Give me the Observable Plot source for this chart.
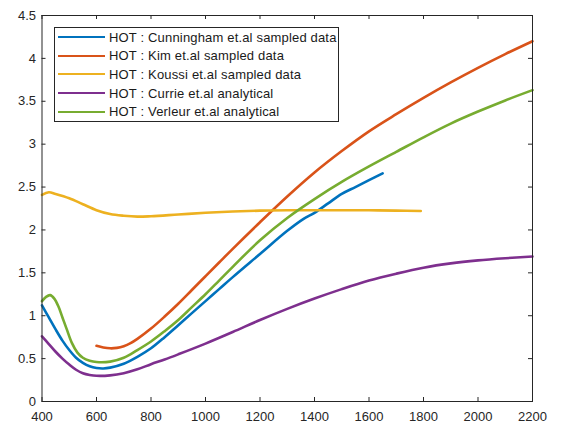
<!DOCTYPE html>
<html>
<head>
<meta charset="utf-8">
<script src="https://cdn.jsdelivr.net/npm/d3@7"></script>
<script src="https://cdn.jsdelivr.net/npm/@observablehq/plot@0.6"></script>
<style>
  html, body { margin: 0; padding: 0; background: #fff; }
  #wrap { position: relative; width: 565px; height: 425px; font-family: "Liberation Sans", Arial, Helvetica, sans-serif; }
  #legend { position: absolute; left: 54px; top: 27px; width: 285px; height: 95px; border: 1px solid #262626; background: #fff; box-sizing: border-box; }
  #legend .row { position: absolute; left: 0; height: 16px; display: flex; align-items: center; font-size: 13px; letter-spacing: 0.17px; color: #1a1a1a; white-space: nowrap; }
  #legend .sw { width: 47px; height: 0; border-top: 2.6px solid; margin: 0 4px 0 3px; }
</style>
</head>
<body>
<div id="wrap"><div id="legend"></div></div>
<script>
// Hot-spot overheat (HOT) curves versus x
const cunninghamX = [400, 425, 450, 475, 500, 525, 550, 575, 600, 625, 650, 700, 750, 800, 850, 900, 950, 1000, 1050, 1100, 1200, 1300, 1360, 1400, 1450, 1500, 1550, 1600, 1650];
const cunninghamY = [1.12, 0.98, 0.84, 0.71, 0.60, 0.51, 0.45, 0.41, 0.39, 0.385, 0.395, 0.44, 0.52, 0.62, 0.75, 0.89, 1.03, 1.17, 1.31, 1.45, 1.72, 1.99, 2.13, 2.20, 2.31, 2.42, 2.50, 2.58, 2.66];

const kimX = [600, 625, 650, 675, 700, 725, 750, 800, 850, 900, 950, 1000, 1050, 1100, 1200, 1300, 1400, 1500, 1600, 1700, 1800, 1900, 2000, 2100, 2200];
const kimY = [0.65, 0.63, 0.62, 0.625, 0.645, 0.68, 0.73, 0.85, 0.99, 1.14, 1.30, 1.46, 1.62, 1.78, 2.09, 2.39, 2.67, 2.92, 3.15, 3.35, 3.54, 3.72, 3.89, 4.05, 4.20];

const koussiX = [400, 425, 450, 500, 550, 600, 650, 700, 750, 800, 900, 1000, 1100, 1200, 1300, 1400, 1500, 1600, 1700, 1790];
const koussiY = [2.41, 2.44, 2.42, 2.37, 2.30, 2.23, 2.185, 2.165, 2.155, 2.16, 2.18, 2.20, 2.215, 2.225, 2.23, 2.23, 2.23, 2.23, 2.225, 2.22];

const currieX = [400, 425, 450, 475, 500, 525, 550, 575, 600, 650, 700, 750, 800, 850, 900, 1000, 1100, 1200, 1300, 1400, 1500, 1600, 1700, 1800, 1900, 2000, 2100, 2200];
const currieY = [0.76, 0.67, 0.58, 0.50, 0.43, 0.37, 0.33, 0.31, 0.30, 0.305, 0.33, 0.375, 0.435, 0.49, 0.55, 0.675, 0.81, 0.95, 1.08, 1.20, 1.31, 1.41, 1.49, 1.56, 1.61, 1.645, 1.67, 1.69];

const verleurX = [400, 415, 430, 445, 460, 475, 490, 510, 530, 550, 575, 600, 650, 700, 750, 800, 850, 900, 950, 1000, 1050, 1100, 1200, 1300, 1400, 1500, 1600, 1700, 1800, 1900, 2000, 2100, 2200];
const verleurY = [1.17, 1.22, 1.24, 1.20, 1.11, 0.98, 0.85, 0.68, 0.57, 0.51, 0.475, 0.46, 0.465, 0.51, 0.60, 0.70, 0.82, 0.95, 1.10, 1.25, 1.41, 1.57, 1.88, 2.14, 2.36, 2.56, 2.74, 2.91, 3.08, 3.24, 3.38, 3.51, 3.63];

const seriesNames = [
  "HOT : Cunningham et.al sampled data",
  "HOT : Kim et.al sampled data",
  "HOT : Koussi et.al sampled data",
  "HOT : Currie et.al analytical",
  "HOT : Verleur et.al analytical"
];
const seriesColors = ["#0072BD", "#D95319", "#EDB120", "#7E2F8E", "#77AC30"];

const xTicks = [400, 600, 800, 1000, 1200, 1400, 1600, 1800, 2000, 2200];
const yTicks = [0, 0.5, 1, 1.5, 2, 2.5, 3, 3.5, 4, 4.5];

const seriesXY = [
  [cunninghamX, cunninghamY],
  [kimX, kimY],
  [koussiX, koussiY],
  [currieX, currieY],
  [verleurX, verleurY]
];
const rows = seriesXY.map(([xs, ys], i) => xs.map((x, j) => ({x, y: ys[j], s: seriesNames[i]})));

const W = 565, H = 425;
const mL = 41.5, mR = 33, mT = 15, mB = 24;
const innerW = W - mL - mR, innerH = H - mT - mB;
const tickLen = 4;
const axisColor = "#262626";

const chart = Plot.plot({
  width: W,
  height: H,
  marginLeft: mL,
  marginRight: mR,
  marginTop: mT,
  marginBottom: mB,
  style: {fontFamily: "'Liberation Sans', Arial, Helvetica, sans-serif", fontSize: "13px", color: axisColor, background: "#fff"},
  x: {domain: [400, 2200]},
  y: {domain: [0, 4.5]},
  marks: [
    ...rows.map((r, i) => Plot.line(r, {x: "x", y: "y", stroke: seriesColors[i], strokeWidth: 2.6, curve: "catmull-rom"})),
    Plot.frame({stroke: axisColor, strokeWidth: 1}),
    // inward ticks on all four sides
    Plot.tickX(xTicks, {x: d => d, insetTop: innerH - tickLen, stroke: axisColor}),
    Plot.tickX(xTicks, {x: d => d, insetBottom: innerH - tickLen, stroke: axisColor}),
    Plot.tickY(yTicks, {y: d => d, insetRight: innerW - tickLen, stroke: axisColor}),
    Plot.tickY(yTicks, {y: d => d, insetLeft: innerW - tickLen, stroke: axisColor}),
    Plot.axisX(xTicks, {tickSize: 0, tickPadding: 10, tickFormat: d => String(d), label: null}),
    Plot.axisY(yTicks, {tickSize: 0, tickPadding: 6, tickFormat: d => String(d), label: null})
  ]
});

const wrap = document.getElementById("wrap");
wrap.insertBefore(chart, wrap.firstChild);

// legend box inside the axes, upper left
const legend = document.getElementById("legend");
const rowTops = [0, 18.7, 37.4, 56, 74.5];
seriesNames.forEach((name, i) => {
  const row = document.createElement("div");
  row.className = "row";
  row.style.top = (1 + rowTops[i]) + "px";
  const sw = document.createElement("div");
  sw.className = "sw";
  sw.style.borderTopColor = seriesColors[i];
  const label = document.createElement("span");
  label.textContent = name;
  row.appendChild(sw);
  row.appendChild(label);
  legend.appendChild(row);
});
</script>
</body>
</html>
